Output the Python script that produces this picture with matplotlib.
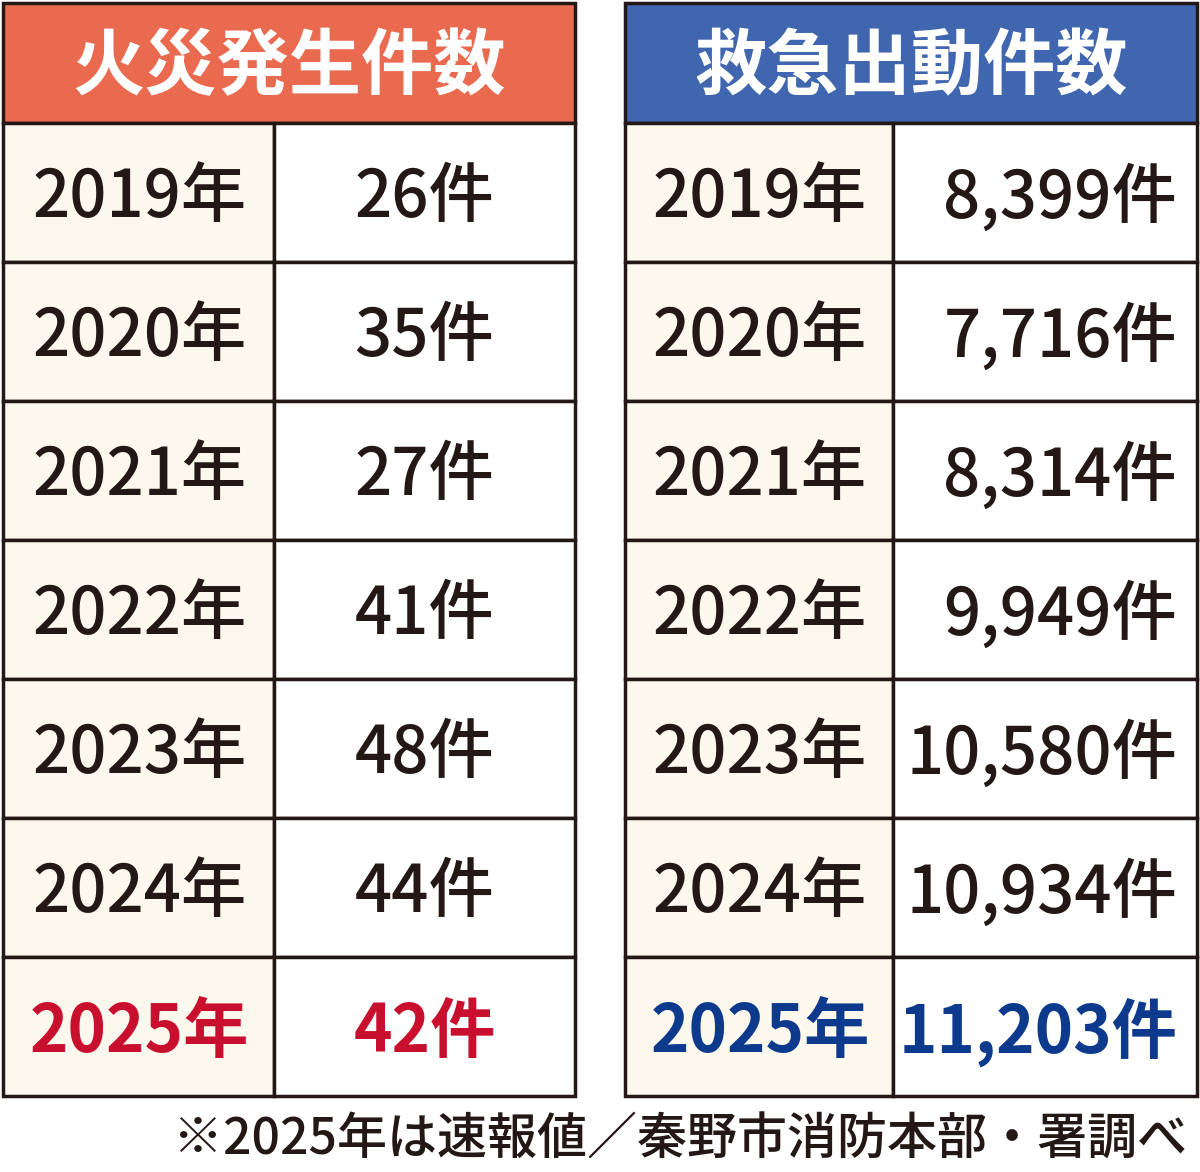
import matplotlib.pyplot as plt
from matplotlib.patches import Rectangle

plt.rcParams['font.family'] = ['Noto Sans CJK JP', 'DejaVu Sans']

years = ['2019年', '2020年', '2021年', '2022年', '2023年', '2024年', '2025年']
fires = ['26件', '35件', '27件', '41件', '48件', '44件', '42件']
calls = ['8,399件', '7,716件', '8,314件', '9,949件', '10,580件', '10,934件', '11,203件']
titles = ['火災発生件数', '救急出動件数']
note = '※2025年は速報値／秦野市消防本部・署調べ'

ink = '#231815'
head_colors = ['#EA6A50', '#4166B0']
hi_colors = ['#C8102E', '#0D3A8C']

fig = plt.figure(figsize=(12, 11.72), dpi=100)
ax = fig.add_axes([0, 0, 1, 1])
ax.set_xlim(0, 1200)
ax.set_ylim(1172, 0)
ax.axis('off')

head_top, head_bot, row_h = 3, 123, 139


def draw_table(x0, x1, xsplit, title, values, color, hi, align):
    ax.add_patch(Rectangle((x0, head_top), x1 - x0, head_bot - head_top,
                           facecolor=color, edgecolor=ink, lw=2.5))
    ax.text((x0 + x1) / 2, (head_top + head_bot) / 2 + 5, title, color='white',
            fontsize=52, fontweight='bold', ha='center', va='center')
    for i, (yr, val) in enumerate(zip(years, values)):
        y = head_bot + i * row_h
        ax.add_patch(Rectangle((x0, y), xsplit - x0, row_h,
                               facecolor='#FDF8EE', edgecolor=ink, lw=2.5))
        ax.add_patch(Rectangle((xsplit, y), x1 - xsplit, row_h,
                               facecolor='white', edgecolor=ink, lw=2.5))
        last = i == len(years) - 1
        c = hi if last else ink
        w = 'bold' if last else 'medium'
        yc = y + row_h / 2 + 6
        ax.text((x0 + xsplit) / 2 + 1, yc, yr, color=c, fontsize=47,
                fontweight=w, ha='center', va='center')
        if align == 'center':
            ax.text((xsplit + x1) / 2, yc, val, color=c, fontsize=47,
                    fontweight=w, ha='center', va='center')
        else:
            ax.text(x1 - 20, yc, val, color=c, fontsize=47,
                    fontweight=w, ha='right', va='center')


draw_table(3, 575, 274, titles[0], fires, head_colors[0], hi_colors[0], 'center')
draw_table(625, 1197, 893, titles[1], calls, head_colors[1], hi_colors[1], 'right')

ax.text(1187, 1141, note, color=ink, fontsize=36, fontweight='medium',
        ha='right', va='center')

fig.savefig('out.png', dpi=100, facecolor='white')
